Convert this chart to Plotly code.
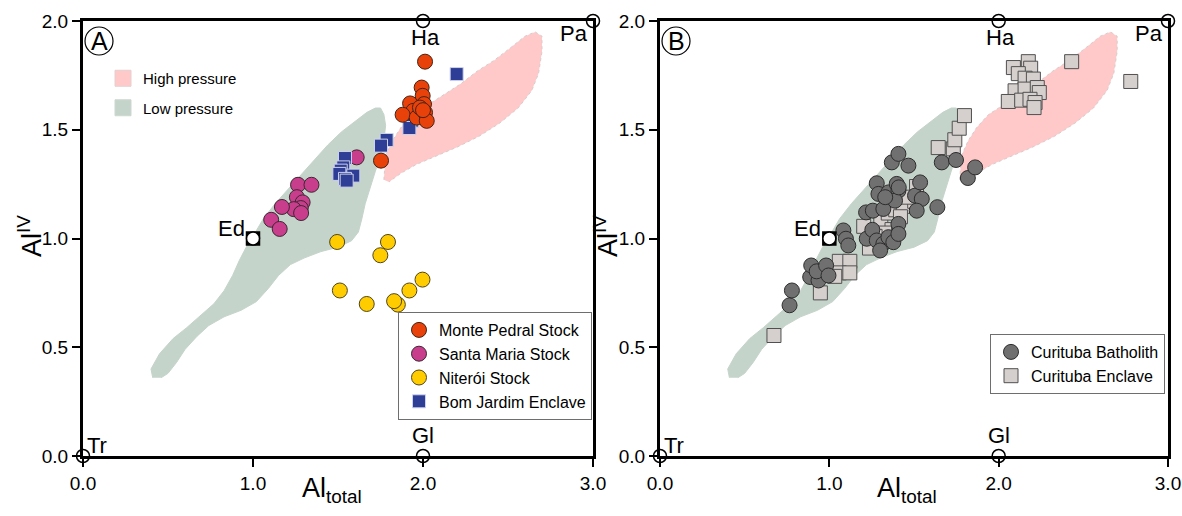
import plotly.graph_objects as go

# ---- pressure fields (Al_total, Al_IV) ----
low_p_x = [0.41, 0.40, 0.45, 0.53, 0.61, 0.70, 0.77, 0.83, 0.88, 0.92, 0.96, 1.00, 1.06, 1.13,
           1.20, 1.28, 1.36, 1.44, 1.52, 1.60, 1.67, 1.72, 1.75, 1.77, 1.78, 1.77, 1.75, 1.72,
           1.69, 1.66, 1.64, 1.62, 1.58, 1.50, 1.40, 1.30, 1.22, 1.15, 1.09, 1.02, 0.93, 0.83,
           0.74, 0.67, 0.60, 0.55, 0.50, 0.46]
low_p_y = [0.36, 0.40, 0.47, 0.54, 0.59, 0.65, 0.70, 0.76, 0.83, 0.90, 0.96, 1.01, 1.09, 1.16,
           1.22, 1.29, 1.36, 1.43, 1.49, 1.54, 1.58, 1.60, 1.60, 1.57, 1.52, 1.45, 1.38, 1.31,
           1.24, 1.16, 1.09, 1.03, 0.99, 0.96, 0.94, 0.91, 0.88, 0.83, 0.77, 0.71, 0.67, 0.64,
           0.60, 0.55, 0.49, 0.43, 0.38, 0.36]

high_p_x = [1.77, 1.78, 1.82, 1.87, 1.94, 2.02, 2.12, 2.22, 2.32, 2.42, 2.52, 2.60, 2.66, 2.70,
            2.70, 2.68, 2.64, 2.56, 2.45, 2.33, 2.20, 2.08, 1.96, 1.87, 1.80]
high_p_y = [1.27, 1.38, 1.45, 1.51, 1.57, 1.61, 1.66, 1.71, 1.77, 1.82, 1.88, 1.93, 1.95, 1.93,
            1.86, 1.76, 1.68, 1.60, 1.53, 1.47, 1.42, 1.38, 1.34, 1.30, 1.26]

# ---- amphibole end-members ----
end_names = ["Tr", "Gl", "Ed", "Ha", "Pa"]
end_x = [0.0, 2.0, 1.0, 2.0, 3.0]
end_y = [0.0, 0.0, 1.0, 2.0, 2.0]

# ---- panel A samples ----
monte_x = [2.012, 1.992, 1.998, 2.006, 1.924, 1.943, 1.880, 1.963, 2.012, 2.022, 1.982, 1.753, 2.000]
monte_y = [1.813, 1.694, 1.656, 1.618, 1.621, 1.587, 1.569, 1.556, 1.579, 1.541, 1.602, 1.358, 1.590]

santa_x = [1.610, 1.265, 1.344, 1.258, 1.292, 1.281, 1.240, 1.170, 1.107, 1.157, 1.283]
santa_y = [1.373, 1.247, 1.247, 1.190, 1.166, 1.140, 1.135, 1.145, 1.086, 1.044, 1.117]

niteroi_x = [1.495, 1.794, 1.749, 1.997, 1.920, 1.511, 1.669, 1.852, 1.830]
niteroi_y = [0.984, 0.984, 0.923, 0.811, 0.761, 0.761, 0.699, 0.696, 0.712]

bom_x = [2.198, 1.934, 1.920, 1.786, 1.753, 1.541, 1.531, 1.516, 1.508, 1.590, 1.541, 1.551]
bom_y = [1.756, 1.541, 1.508, 1.453, 1.427, 1.370, 1.327, 1.312, 1.297, 1.289, 1.274, 1.266]

# ---- panel B samples ----
bath_x = [0.765, 0.779, 0.887, 0.893, 0.936, 0.925, 0.981, 0.995, 1.083, 1.098, 1.112,
          1.217, 1.257, 1.319, 1.280, 1.290, 1.349, 1.408, 1.398, 1.388, 1.369, 1.408, 1.467,
          1.506, 1.546, 1.536, 1.516, 1.638, 1.664, 1.748, 1.818, 1.861, 1.221, 1.254, 1.280,
          1.319, 1.300, 1.349, 1.378, 1.408, 1.408, 1.330, 1.410]
bath_y = [0.693, 0.761, 0.823, 0.876, 0.807, 0.849, 0.876, 0.830, 1.037, 0.999, 0.968,
          1.120, 1.128, 1.136, 1.254, 1.205, 1.212, 1.220, 1.251, 1.174, 1.350, 1.389, 1.335,
          1.197, 1.182, 1.258, 1.128, 1.144, 1.350, 1.361, 1.278, 1.327, 0.999, 1.040, 0.991,
          0.976, 0.945, 1.006, 0.983, 1.067, 1.021, 1.190, 1.235]

encl_x = [0.673, 0.947, 1.059, 1.121, 1.059, 1.121, 1.032, 1.203, 1.237, 1.304, 1.348, 1.392,
          1.437, 1.504, 1.515, 1.370, 1.326, 1.270, 1.460, 1.420, 1.643, 1.732, 1.741, 1.767,
          1.798, 2.087, 2.175, 2.189, 2.116, 2.156, 2.205, 2.097, 2.156, 2.228, 2.240, 2.057,
          2.136, 2.185, 2.215, 2.209, 2.431, 2.780]
encl_y = [0.554, 0.750, 0.895, 0.895, 0.842, 0.842, 0.826, 1.056, 0.956, 1.079, 1.117, 1.132,
          1.148, 1.171, 1.239, 1.041, 1.025, 1.010, 1.190, 1.100, 1.418, 1.412, 1.454, 1.507,
          1.565, 1.786, 1.813, 1.783, 1.758, 1.737, 1.733, 1.679, 1.687, 1.694, 1.671, 1.630,
          1.636, 1.640, 1.625, 1.602, 1.813, 1.722]

# ---- axis ticks ----
x_ticks = [0, 1, 2, 3]
x_ticklabels = ["0.0", "1.0", "2.0", "3.0"]
y_ticks = [0, 0.5, 1, 1.5, 2]
y_ticklabels = ["0.0", "0.5", "1.0", "1.5", "2.0"]

W, H = 1182, 516
FONT = "Liberation Sans, Arial, sans-serif"
GREEN = "rgb(197,212,202)"
PINK = "rgb(255,201,201)"

fig = go.Figure()

panels = [("x", "y"), ("x2", "y2")]

for xa, ya in panels:
    fig.add_trace(go.Scatter(
        x=low_p_x, y=low_p_y, xaxis=xa, yaxis=ya, mode="lines", fill="toself",
        fillcolor=GREEN, line=dict(color=GREEN, width=1), showlegend=False,
        hoverinfo="skip"))
    fig.add_trace(go.Scatter(
        x=high_p_x, y=high_p_y, xaxis=xa, yaxis=ya, mode="lines", fill="toself",
        fillcolor=PINK, line=dict(color="rgb(215,205,205)", width=1, dash="dot"),
        showlegend=False, hoverinfo="skip"))

# legend swatches for the two pressure fields
fig.add_trace(go.Scatter(
    x=[None], y=[None], mode="markers", name="High pressure", legend="legend3",
    legendgroup="high", legendrank=1,
    marker=dict(symbol="square", size=19, color=PINK,
                line=dict(color="rgb(228,208,208)", width=1))))
fig.add_trace(go.Scatter(
    x=[None], y=[None], mode="markers", name="Low pressure", legend="legend3",
    legendgroup="low", legendrank=2,
    marker=dict(symbol="square", size=19, color=GREEN,
                line=dict(color="rgb(205,215,208)", width=1))))

# panel A samples
fig.add_trace(go.Scatter(
    x=santa_x, y=santa_y, mode="markers", name="Santa Maria Stock", legendrank=2,
    marker=dict(symbol="circle", size=15, color="rgb(200,62,140)",
                line=dict(color="rgb(60,40,50)", width=1))))
fig.add_trace(go.Scatter(
    x=bom_x, y=bom_y, mode="markers", name="Bom Jardim Enclave", legendrank=4,
    marker=dict(symbol="square", size=13, color="rgb(46,61,149)",
                line=dict(color="rgb(205,210,235)", width=1))))
fig.add_trace(go.Scatter(
    x=monte_x, y=monte_y, mode="markers", name="Monte Pedral Stock", legendrank=1,
    marker=dict(symbol="circle", size=15, color="rgb(232,66,10)",
                line=dict(color="rgb(70,35,20)", width=1))))
fig.add_trace(go.Scatter(
    x=niteroi_x, y=niteroi_y, mode="markers", name="Niterói Stock", legendrank=3,
    marker=dict(symbol="circle", size=15, color="rgb(255,204,0)",
                line=dict(color="rgb(80,70,30)", width=1))))

# panel B samples
fig.add_trace(go.Scatter(
    x=encl_x, y=encl_y, xaxis="x2", yaxis="y2", mode="markers", name="Curituba Enclave",
    legend="legend2", legendrank=2,
    marker=dict(symbol="square", size=14, color="rgb(213,208,206)",
                line=dict(color="rgb(80,80,80)", width=1))))
fig.add_trace(go.Scatter(
    x=bath_x, y=bath_y, xaxis="x2", yaxis="y2", mode="markers", name="Curituba Batholith",
    legend="legend2", legendrank=1,
    marker=dict(symbol="circle", size=15, color="rgb(112,112,112)",
                line=dict(color="rgb(45,45,45)", width=1))))

# end-member markers and labels; offsets in pixels (right, down)
label_shift = {"Tr": (14, -11), "Gl": (0, -21), "Ed": (-22, -10), "Ha": (2, 17), "Pa": (-19, 13)}
for xa, ya in panels:
    ed_i = end_names.index("Ed")
    fig.add_trace(go.Scatter(
        x=[end_x[ed_i]], y=[end_y[ed_i]], xaxis=xa, yaxis=ya, mode="markers",
        showlegend=False, cliponaxis=False, hoverinfo="skip",
        marker=dict(symbol="square", size=12, color="white",
                    line=dict(color="black", width=2.5))))
    fig.add_trace(go.Scatter(
        x=end_x, y=end_y, xaxis=xa, yaxis=ya, mode="markers", showlegend=False,
        cliponaxis=False, hoverinfo="skip",
        marker=dict(symbol="circle", size=13, color="white",
                    line=dict(color="black", width=1.5))))
    for n, ex, ey in zip(end_names, end_x, end_y):
        dx, dy = label_shift[n]
        fig.add_annotation(x=ex, y=ey, xref=xa, yref=ya, text=n, showarrow=False,
                           xanchor="center", yanchor="middle",
                           xshift=dx, yshift=-dy,
                           font=dict(family=FONT, size=22, color="black"))


def px(v):
    return v / W


def py(v):
    return 1 - v / H


axis_common = dict(
    showline=True, linewidth=3, linecolor="black", mirror=True,
    ticks="outside", ticklen=8, tickwidth=2, tickcolor="black",
    showgrid=False, zeroline=False, automargin=False,
    tickfont=dict(family=FONT, size=19, color="black"),
)

fig.update_layout(
    width=W, height=H,
    margin=dict(l=0, r=0, t=0, b=0, pad=0, autoexpand=False),
    paper_bgcolor="white", plot_bgcolor="white",
    font=dict(family=FONT, color="black"),
    xaxis=dict(domain=[px(83), px(593)], range=[0, 3], anchor="y",
               tickvals=x_ticks, ticktext=x_ticklabels, **axis_common),
    yaxis=dict(domain=[py(456), py(21)], range=[0, 2], anchor="x",
               tickvals=y_ticks, ticktext=y_ticklabels, **axis_common),
    xaxis2=dict(domain=[px(660), px(1168)], range=[0, 3], anchor="y2",
                tickvals=x_ticks, ticktext=x_ticklabels, **axis_common),
    yaxis2=dict(domain=[py(456), py(21)], range=[0, 2], anchor="x2",
                tickvals=y_ticks, ticktext=y_ticklabels, **axis_common),
    legend=dict(x=px(398), y=py(312), xanchor="left", yanchor="top",
                bordercolor="rgb(110,110,110)", borderwidth=1, bgcolor="white",
                font=dict(family=FONT, size=16, color="black"),
                itemwidth=30, tracegroupgap=0),
    legend2=dict(x=px(990), y=py(334), xanchor="left", yanchor="top",
                 bordercolor="rgb(110,110,110)", borderwidth=1, bgcolor="white",
                 font=dict(family=FONT, size=16, color="black"), itemwidth=30),
    legend3=dict(x=px(103), y=py(62), xanchor="left", yanchor="top",
                 bgcolor="rgba(0,0,0,0)", borderwidth=0,
                 font=dict(family=FONT, size=15, color="black"),
                 itemwidth=30, tracegroupgap=7),
)

# axis titles
for cx in (332, 907):
    fig.add_annotation(x=px(cx), y=py(490), xref="paper", yref="paper", showarrow=False,
                       xanchor="center", yanchor="middle",
                       text="Al<sub>total</sub>", font=dict(family=FONT, size=27))
for cx in (30, 606):
    fig.add_annotation(x=px(cx), y=py(236), xref="paper", yref="paper", showarrow=False,
                       xanchor="center", yanchor="middle",
                       text="Al<sup>IV</sup>", textangle=-90, font=dict(family=FONT, size=27))

# circled panel letters
for letter, cx in (("A", 99), ("B", 676)):
    fig.add_shape(type="circle", xref="paper", yref="paper",
                  x0=px(cx - 14), x1=px(cx + 14), y0=py(55), y1=py(27),
                  line=dict(color="black", width=1.2))
    fig.add_annotation(x=px(cx), y=py(41), xref="paper", yref="paper", showarrow=False,
                       xanchor="center", yanchor="middle",
                       text=letter, font=dict(family=FONT, size=25))

fig.write_html("out.html")
